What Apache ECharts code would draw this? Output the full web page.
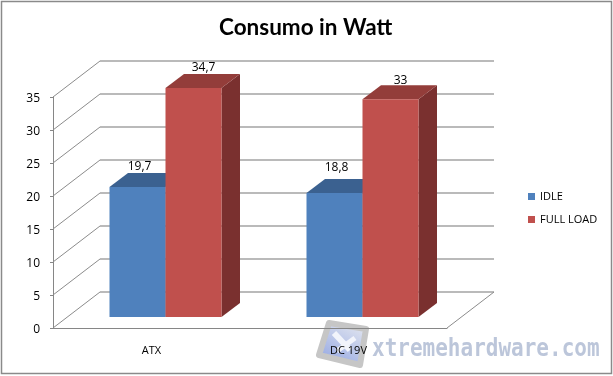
<!DOCTYPE html>
<html lang="it">
<head>
<meta charset="UTF-8">
<title>Consumo in Watt</title>
<script src="https://cdn.jsdelivr.net/npm/echarts@6/dist/echarts.min.js"></script>
</head>
<body style="margin:0;background:#fff">
<div id="main" style="width:613px;height:376px"></div>
<script>
var categories = ['ATX', 'DC 19V'];
var idle = [19.7, 18.8];
var fullLoad = [34.7, 33];
var yTicks = [0, 5, 10, 15, 20, 25, 30, 35];

// fake 3D look of the Excel chart
var WALL_DX = 47, WALL_DY = 36;
var BAR_SHIFT_X = 14, BAR_SHIFT_Y = 11;
var BAR_DX = 18.5, BAR_DY = 14;
var BAR_W = 56;

function comma(v) {
    return String(v).replace('.', ',');
}

function wallItem(params, api) {
    var cs = params.coordSys;
    var v = api.value(1);
    var y = api.coord([0, v])[1];
    var x0 = cs.x, x1 = cs.x + cs.width;
    var children = [{
        type: 'polyline',
        shape: {points: [[x0, y], [x0 + WALL_DX, y - WALL_DY]]},
        style: {stroke: '#8c8c8c', lineWidth: 1, fill: null}
    }, {
        type: 'line',
        shape: {x1: x0 + WALL_DX, y1: y - WALL_DY, x2: x1 + WALL_DX, y2: y - WALL_DY},
        style: {stroke: '#a3a3a3', lineWidth: 1.5}
    }];
    if (v === 0) {
        children.push({
            type: 'line',
            shape: {x1: x1, y1: y, x2: x1 + WALL_DX, y2: y - WALL_DY},
            style: {stroke: '#8c8c8c', lineWidth: 1}
        });
    }
    return {type: 'group', children: children};
}

function barRenderer(side, topColor, sideColor, labelDx, labelDy) {
    return function (params, api) {
        var i = api.value(0), v = api.value(1);
        var base = api.coord([i, 0]);
        var top = api.coord([i, v]);
        var left = base[0] + BAR_SHIFT_X + (side < 0 ? -BAR_W : 0);
        var right = left + BAR_W;
        var y0 = base[1] - BAR_SHIFT_Y;
        var y1 = top[1] - BAR_SHIFT_Y;
        return {type: 'group', children: [{
            type: 'polygon',
            shape: {points: [[right, y1], [right + BAR_DX, y1 - BAR_DY], [right + BAR_DX, y0 - BAR_DY], [right, y0]]},
            style: {fill: sideColor}
        }, {
            type: 'polygon',
            shape: {points: [[left, y1], [left + BAR_DX, y1 - BAR_DY], [right + BAR_DX, y1 - BAR_DY], [right, y1]]},
            style: {fill: topColor}
        }, {
            type: 'rect',
            shape: {x: left, y: y1, width: BAR_W, height: y0 - y1},
            style: {fill: api.visual('color')}
        }, {
            type: 'text',
            style: {
                x: left + BAR_W / 2 + labelDx,
                y: y1 + labelDy[params.dataIndex],
                text: comma(v),
                fill: '#000',
                font: '12px "Open Sans"',
                align: 'center',
                verticalAlign: 'middle'
            }
        }]};
    };
}

function toPoints(list) {
    return list.map(function (v, i) { return [i, v]; });
}

var option = {
    animation: false,
    backgroundColor: '#fff',
    title: {
        text: 'Consumo in Watt',
        left: 214,
        top: 11,
        textStyle: {fontFamily: 'Lato', fontWeight: 'bold', fontSize: 22.5, color: '#000'}
    },
    legend: {
        orient: 'vertical',
        left: 528,
        top: 191,
        padding: 0,
        itemWidth: 7,
        itemHeight: 7,
        itemGap: 12,
        icon: 'rect',
        data: ['IDLE', 'FULL LOAD'],
        textStyle: {fontFamily: 'Open Sans', fontSize: 11, color: '#000'}
    },
    grid: {left: 53, right: 166, top: 97, bottom: 48},
    xAxis: {
        type: 'category',
        data: categories,
        z: 6,
        axisLine: {lineStyle: {color: '#868686'}},
        axisTick: {length: 5, lineStyle: {color: '#868686'}},
        axisLabel: {color: '#000', fontFamily: 'Open Sans', fontSize: 11, margin: 17}
    },
    yAxis: {
        type: 'value',
        min: 0,
        max: 35,
        interval: 5,
        axisLine: {show: true, lineStyle: {color: '#868686'}},
        axisTick: {show: true, length: 3, lineStyle: {color: '#868686'}},
        axisLabel: {
            margin: 13,
            formatter: '{v|{value}}',
            rich: {v: {color: '#000', fontFamily: 'Open Sans', fontSize: 12, lineHeight: 14, padding: [4, 0, 0, 0]}}
        },
        splitLine: {show: false}
    },
    series: [{
        name: 'wall',
        type: 'custom',
        z: 1,
        silent: true,
        renderItem: wallItem,
        data: yTicks.map(function (v) { return [0, v]; })
    }, {
        name: 'IDLE',
        type: 'custom',
        z: 3,
        itemStyle: {color: '#4f81bd'},
        renderItem: barRenderer(-1, '#3b6190', '#385d8a', 2, [-20, -25]),
        data: toPoints(idle)
    }, {
        name: 'FULL LOAD',
        type: 'custom',
        z: 4,
        itemStyle: {color: '#c0504d'},
        renderItem: barRenderer(1, '#933d3a', '#7a302f', 10, [-20, -19]),
        data: toPoints(fullLoad)
    }],
    graphic: [{
        type: 'rect',
        z: 0,
        silent: true,
        shape: {x: 1.5, y: 1.5, width: 610, height: 372},
        style: {fill: null, stroke: '#8a8a8a', lineWidth: 1.5}
    }, {
        type: 'text',
        z: 5,
        silent: true,
        x: 372,
        y: 337,
        scaleY: 1.22,
        style: {
            text: 'xtremehardware.com',
            font: 'bold 21px "DejaVu Sans Mono"',
            fill: '#bcc6da'
        }
    }, {
        type: 'polygon',
        z: 5,
        silent: true,
        shape: {points: [[329, 323], [366, 329], [360, 365], [319, 355]]},
        style: {
            stroke: '#c6c6c6',
            lineWidth: 6,
            lineJoin: 'round',
            fill: {
                type: 'linear', x: 0.8, y: 0, x2: 0.3, y2: 1,
                colorStops: [{offset: 0, color: '#e6e9f0'}, {offset: 1, color: '#93a6e2'}]
            }
        }
    }, {
        type: 'line',
        z: 5,
        silent: true,
        shape: {x1: 334, y1: 333, x2: 350, y2: 350},
        style: {stroke: '#f2f4fb', lineWidth: 6}
    }, {
        type: 'line',
        z: 5,
        silent: true,
        shape: {x1: 355, y1: 338, x2: 337, y2: 351},
        style: {stroke: '#f2f4fb', lineWidth: 5}
    }]
};

var myChart = echarts.init(document.getElementById('main'));
myChart.setOption(option);
</script>
</body>
</html>
